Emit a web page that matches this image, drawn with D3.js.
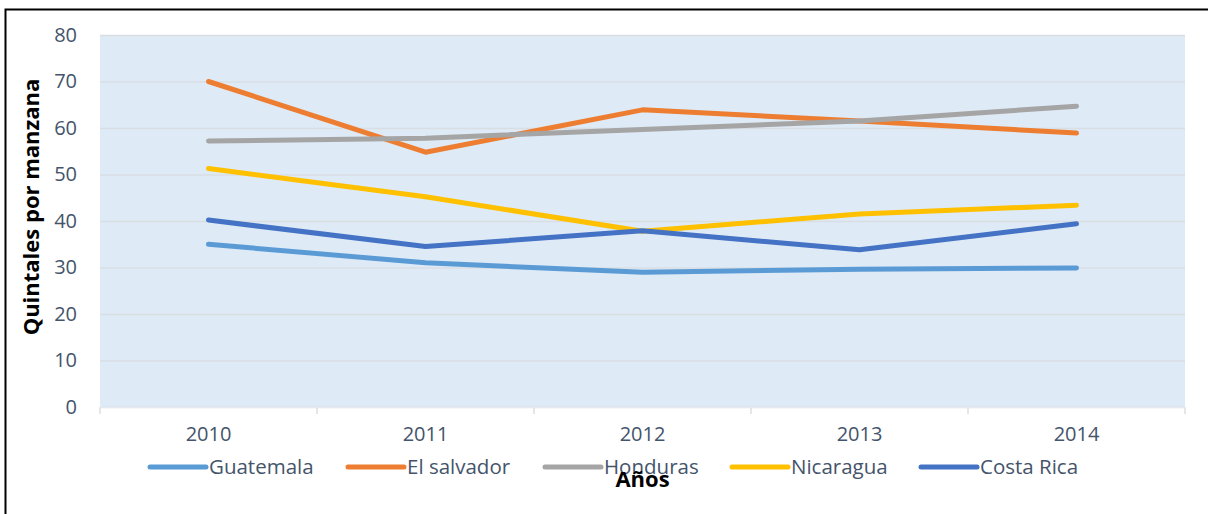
<!DOCTYPE html>
<html>
<head>
<meta charset="utf-8">
<script src="https://cdn.jsdelivr.net/npm/d3@7"></script>
<style>
  body { margin: 0; background: #fff; }
  svg { display: block; }
  text { font-family: "Open Sans", "Liberation Sans", sans-serif; }
</style>
</head>
<body>
<div id="chart"></div>
<script>
// data
var years = ['2010', '2011', '2012', '2013', '2014'];
var countries = ['Guatemala', 'El salvador', 'Honduras', 'Nicaragua', 'Costa Rica'];
var guatemala = [35, 31, 29, 29.6, 29.9];
var elSalvador = [70, 54.8, 63.9, 61.5, 58.9];
var honduras = [57.2, 57.8, 59.7, 61.5, 64.7];
var nicaragua = [51.3, 45.2, 37.8, 41.5, 43.4];
var costaRica = [40.2, 34.5, 37.9, 33.8, 39.4];
var yTicks = [0, 10, 20, 30, 40, 50, 60, 70, 80];
var colors = ['#5B9BD5', '#ED7D31', '#A5A5A5', '#FFC000', '#4472C4'];

var seriesList = [guatemala, elSalvador, honduras, nicaragua, costaRica];

var W = 1208, H = 514;
var margin = {top: 35, right: 23, bottom: 107, left: 100};

var svg = d3.select('#chart').append('svg')
    .attr('width', W)
    .attr('height', H);

// outer frame (right / bottom edges fall outside the picture)
svg.append('rect')
    .attr('x', 5.5).attr('y', 9.5)
    .attr('width', W + 10).attr('height', H + 10)
    .attr('fill', 'none')
    .attr('stroke', '#000')
    .attr('stroke-width', 2);

var w = W - margin.left - margin.right;
var h = H - margin.top - margin.bottom;

var g = svg.append('g')
    .attr('transform', 'translate(' + margin.left + ',' + margin.top + ')');

var x = d3.scaleBand().domain(years).range([0, w]).padding(0);
var y = d3.scaleLinear().domain([0, 80]).range([h, 0]);

g.append('rect')
    .attr('width', w).attr('height', h)
    .attr('fill', '#DEEAF6');

// gridlines
g.append('g')
    .attr('class', 'grid')
    .call(d3.axisLeft(y).tickValues(yTicks).tickSize(-w).tickFormat(''))
    .call(function (s) {
        s.select('.domain').remove();
        s.selectAll('line').attr('stroke', '#D9DEE3').attr('stroke-width', 1.3);
    });

// y labels
g.append('g')
    .call(d3.axisLeft(y).tickValues(yTicks).tickSize(0).tickPadding(23))
    .call(function (s) {
        s.select('.domain').remove();
        s.selectAll('text')
            .attr('fill', '#44546A')
            .attr('font-size', 20)
            .attr('font-family', '"Open Sans", sans-serif');
    });

// x axis: labels centred, ticks on category boundaries
var xAxis = g.append('g').attr('transform', 'translate(0,' + h + ')');
xAxis.call(d3.axisBottom(x).tickSize(0).tickPadding(20))
    .call(function (s) {
        s.select('.domain').remove();
        s.selectAll('text')
            .attr('fill', '#44546A')
            .attr('font-size', 20)
            .attr('font-family', '"Open Sans", sans-serif');
    });
var bounds = years.map(function (d) { return x(d); }).concat([w]);
xAxis.selectAll('.bound')
    .data(bounds)
    .enter()
    .append('line')
    .attr('class', 'bound')
    .attr('x1', function (d) { return d; })
    .attr('x2', function (d) { return d; })
    .attr('y1', 0)
    .attr('y2', 7)
    .attr('stroke', '#D9D9D9')
    .attr('stroke-width', 1.3);
xAxis.append('line')
    .attr('x1', 0).attr('x2', w)
    .attr('y1', 0.5).attr('y2', 0.5)
    .attr('stroke', '#E6E9EE');

// lines
var line = d3.line()
    .x(function (d, i) { return x(years[i]) + x.bandwidth() / 2; })
    .y(function (d) { return y(d); });

g.selectAll('.series')
    .data(seriesList)
    .enter()
    .append('path')
    .attr('class', 'series')
    .attr('d', line)
    .attr('fill', 'none')
    .attr('stroke', function (d, i) { return colors[i]; })
    .attr('stroke-width', 5)
    .attr('stroke-linecap', 'round')
    .attr('stroke-linejoin', 'round');

// legend
var legendX = [150, 348, 545, 732, 921];
var legend = svg.append('g').attr('class', 'legend');
var item = legend.selectAll('g')
    .data(countries)
    .enter()
    .append('g')
    .attr('transform', function (d, i) { return 'translate(' + legendX[i] + ',467)'; });
item.append('line')
    .attr('x1', 0).attr('x2', 56)
    .attr('stroke', function (d, i) { return colors[i]; })
    .attr('stroke-width', 5)
    .attr('stroke-linecap', 'round');
item.append('text')
    .attr('x', 59)
    .attr('dy', '0.35em')
    .attr('fill', '#44546A')
    .attr('font-size', 20.5)
    .text(function (d) { return d; });

// axis titles (the reference lets "Años" sit over the legend row)
svg.append('text')
    .attr('x', margin.left + w / 2)
    .attr('y', 487)
    .attr('text-anchor', 'middle')
    .attr('font-weight', 'bold')
    .attr('font-size', 22)
    .attr('fill', '#000')
    .text('Años');

svg.append('text')
    .attr('transform', 'translate(39,' + (margin.top + h / 2 - 14) + ') rotate(-90)')
    .attr('text-anchor', 'middle')
    .attr('font-weight', 'bold')
    .attr('font-size', 22)
    .attr('fill', '#000')
    .text('Quintales por manzana');
</script>
</body>
</html>
